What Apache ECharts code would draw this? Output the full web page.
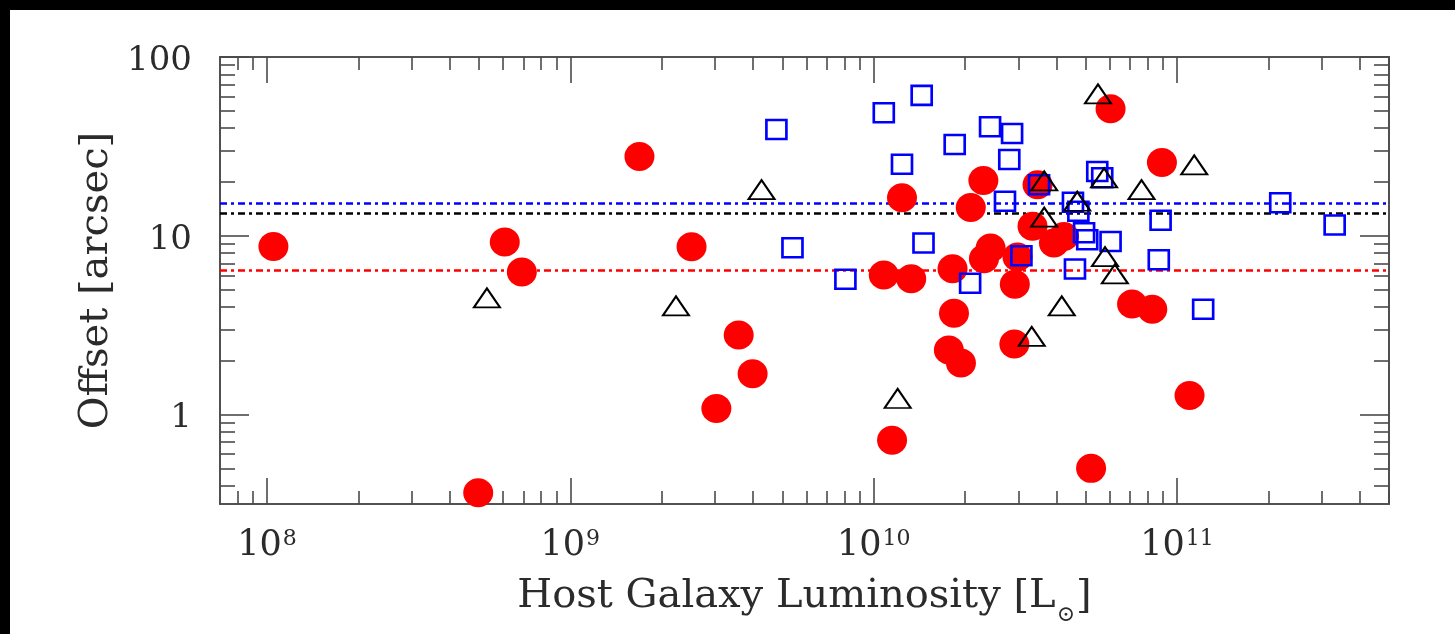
<!DOCTYPE html>
<html>
<head>
<meta charset="utf-8">
<script src="https://cdn.jsdelivr.net/npm/echarts@6/dist/echarts.min.js"></script>
<style>
  html, body { margin: 0; padding: 0; background: #000; }
  #panel { position: absolute; left: 10px; top: 10px; width: 1445px; height: 624px; background: #fff; }
  #chart { position: absolute; left: 0; top: 0; width: 1455px; height: 634px; }
</style>
</head>
<body>
<div id="panel"></div>
<div id="chart"></div>
<script>
// Host galaxy luminosity [L_sun] against projected offset [arcsec], three samples.

// Filled red circles
const redLum = [1.05e8, 4.97e8, 6.08e8, 6.92e8, 1.69e9, 2.51e9, 3.03e9, 3.59e9, 3.99e9,
  1.08e10, 1.15e10, 1.24e10, 1.33e10, 1.82e10, 1.84e10, 1.77e10, 1.94e10, 2.09e10, 2.30e10,
  2.31e10, 2.43e10, 2.92e10, 2.91e10, 2.98e10, 3.47e10, 3.34e10, 3.93e10, 4.24e10, 5.21e10,
  6.04e10, 7.11e10, 8.29e10, 8.92e10, 1.10e11];
const redOff = [8.7, 0.365, 9.23, 6.28, 27.8, 8.68, 1.08, 2.79, 1.69,
  6.04, 0.718, 16.3, 5.75, 6.55, 3.69, 2.30, 1.94, 14.4, 20.4,
  7.45, 8.55, 5.35, 2.48, 7.6, 19.3, 11.3, 9.1, 9.9, 0.50,
  51.4, 4.15, 3.88, 25.7, 1.28];

// Open blue squares
const blueLum = [4.78e9, 5.40e9, 8.07e9, 1.08e10, 1.24e10, 1.44e10, 1.46e10, 1.85e10, 2.08e10,
  2.42e10, 2.71e10, 2.80e10, 2.86e10, 3.07e10, 3.51e10, 4.54e10, 4.73e10, 4.61e10, 4.94e10,
  5.06e10, 5.46e10, 5.67e10, 6.04e10, 8.71e10, 8.83e10, 1.22e11, 2.19e11, 3.31e11];
const blueOff = [39.3, 8.57, 5.72, 48.8, 25.1, 61.0, 9.1, 32.4, 5.43,
  40.7, 15.6, 26.7, 37.3, 7.73, 19.3, 15.4, 13.7, 6.51, 10.4,
  9.5, 22.9, 21.1, 9.29, 7.34, 12.2, 3.88, 15.3, 11.5];

// Open black triangles
const blackLum = [5.31e8, 2.23e9, 4.27e9, 1.20e10, 3.32e10, 3.65e10, 3.65e10, 4.17e10,
  4.69e10, 5.49e10, 5.75e10, 5.79e10, 6.24e10, 7.64e10, 1.14e11];
const blackOff = [4.49, 4.05, 18.1, 1.23, 2.74, 20.3, 12.7, 4.05,
  15.6, 62.2, 21.1, 7.65, 6.12, 18.1, 24.9];

// Median offset of each sample (dotted horizontal lines)
const redMedian = 6.45;
const blueMedian = 15.26;
const blackMedian = 13.41;

// Axis ranges and tick positions
const X_MIN = 7e7, X_MAX = 5e11;
const Y_MIN = 0.316, Y_MAX = 100;
const xMajor = [1e8, 1e9, 1e10, 1e11];
const xMinor = [8e7, 9e7,
  2e8, 3e8, 4e8, 5e8, 6e8, 7e8, 8e8, 9e8,
  2e9, 3e9, 4e9, 5e9, 6e9, 7e9, 8e9, 9e9,
  2e10, 3e10, 4e10, 5e10, 6e10, 7e10, 8e10, 9e10,
  2e11, 3e11, 4e11, 5e11];
const yMajor = [1, 10, 100];
const yMinor = [0.4, 0.5, 0.6, 0.7, 0.8, 0.9, 2, 3, 4, 5, 6, 7, 8, 9,
  20, 30, 40, 50, 60, 70, 80, 90];

const FONT = 'DejaVu Serif';
const INK = '#2b2b2b';
const FRAME = '#4a4a4a';

function zip(a, b) { return a.map((v, i) => [v, b[i]]); }

function xAxis(gridIndex, position, ticks, len, showLabel) {
  return {
    type: 'log', logBase: 10, gridIndex, position, min: X_MIN, max: X_MAX,
    axisLine: { show: true, onZero: false, lineStyle: { color: FRAME, width: 1.6 } },
    axisTick: { show: true, inside: true, length: len, customValues: ticks,
      lineStyle: { color: FRAME, width: 1.6 } },
    minorTick: { show: false },
    splitLine: { show: false },
    axisLabel: showLabel ? {
      show: true, customValues: ticks, margin: 24,
      formatter: v => '{b|10}{s|' + Math.round(Math.log10(v)) + '}',
      rich: {
        b: { fontFamily: FONT, fontSize: 35, color: INK, verticalAlign: 'top', lineHeight: 36 },
        s: { fontFamily: FONT, fontSize: 22, color: INK, verticalAlign: 'top', lineHeight: 22, padding: [0, 0, 0, 1] }
      }
    } : { show: false }
  };
}

function yAxis(gridIndex, position, ticks, len, showLabel) {
  return {
    type: 'log', logBase: 10, gridIndex, position, min: Y_MIN, max: Y_MAX,
    axisLine: { show: true, onZero: false, lineStyle: { color: FRAME, width: 1.6 } },
    axisTick: { show: true, inside: true, length: len, customValues: ticks,
      lineStyle: { color: FRAME, width: 1.6 } },
    minorTick: { show: false },
    splitLine: { show: false },
    axisLabel: showLabel ? {
      show: true, customValues: ticks, margin: 28,
      fontFamily: FONT, fontSize: 34, color: INK,
      verticalAlign: 'top', lineHeight: 8,
      formatter: v => String(v)
    } : { show: false }
  };
}

function medianLine(value, color) {
  return {
    silent: true, symbol: 'none', z: 1,
    label: { show: false },
    lineStyle: { color, width: 2.5, type: [7, 4, 3, 4], opacity: 1 },
    data: [{ yAxis: value }]
  };
}

const gridRect = { left: 220, top: 57, width: 1169, height: 447 };

const chart = echarts.init(document.getElementById('chart'), null, { renderer: 'canvas' });

chart.setOption({
  backgroundColor: 'transparent',
  animation: false,
  grid: [Object.assign({}, gridRect), Object.assign({}, gridRect)],
  xAxis: [
    Object.assign(xAxis(0, 'bottom', xMajor, 26, true), {
      name: '{t|Host Galaxy Luminosity [L}{u|⊙}{t|]}',
      nameLocation: 'middle', nameGap: 73,
      nameTextStyle: {
        rich: {
          t: { fontFamily: FONT, fontSize: 40, color: INK, verticalAlign: 'top', lineHeight: 44 },
          u: { fontFamily: FONT, fontSize: 22, color: INK, verticalAlign: 'top', lineHeight: 22, padding: [27, 1, 0, 1] }
        }
      }
    }),
    xAxis(0, 'top', xMajor, 26, false),
    xAxis(1, 'bottom', xMinor, 13, false),
    xAxis(1, 'top', xMinor, 13, false)
  ],
  yAxis: [
    Object.assign(yAxis(0, 'left', yMajor, 29, true), {
      name: 'Offset [arcsec]',
      nameLocation: 'middle', nameGap: 103, nameRotate: 90,
      nameTextStyle: { fontFamily: FONT, fontSize: 40, color: INK }
    }),
    yAxis(0, 'right', yMajor, 29, false),
    yAxis(1, 'left', yMinor, 15, false),
    yAxis(1, 'right', yMinor, 15, false)
  ],
  series: [
    {
      name: 'circles', type: 'scatter', xAxisIndex: 0, yAxisIndex: 0, z: 2,
      symbol: 'circle', symbolSize: [30, 29],
      itemStyle: { color: '#ff0000', opacity: 1 },
      data: zip(redLum, redOff),
      markLine: medianLine(redMedian, '#ff0000')
    },
    {
      name: 'squares', type: 'scatter', xAxisIndex: 0, yAxisIndex: 0, z: 3,
      symbol: 'rect', symbolSize: [20, 19],
      itemStyle: { color: 'rgba(0,0,0,0)', borderColor: '#0000ff', borderWidth: 2.6, opacity: 1 },
      data: zip(blueLum, blueOff),
      markLine: medianLine(blueMedian, '#0000ff')
    },
    {
      name: 'triangles', type: 'scatter', xAxisIndex: 0, yAxisIndex: 0, z: 4,
      symbol: 'triangle', symbolSize: [26, 19],
      itemStyle: { color: 'rgba(0,0,0,0)', borderColor: '#000000', borderWidth: 2, opacity: 1 },
      data: zip(blackLum, blackOff),
      markLine: medianLine(blackMedian, '#000000')
    }
  ]
});
</script>
</body>
</html>
